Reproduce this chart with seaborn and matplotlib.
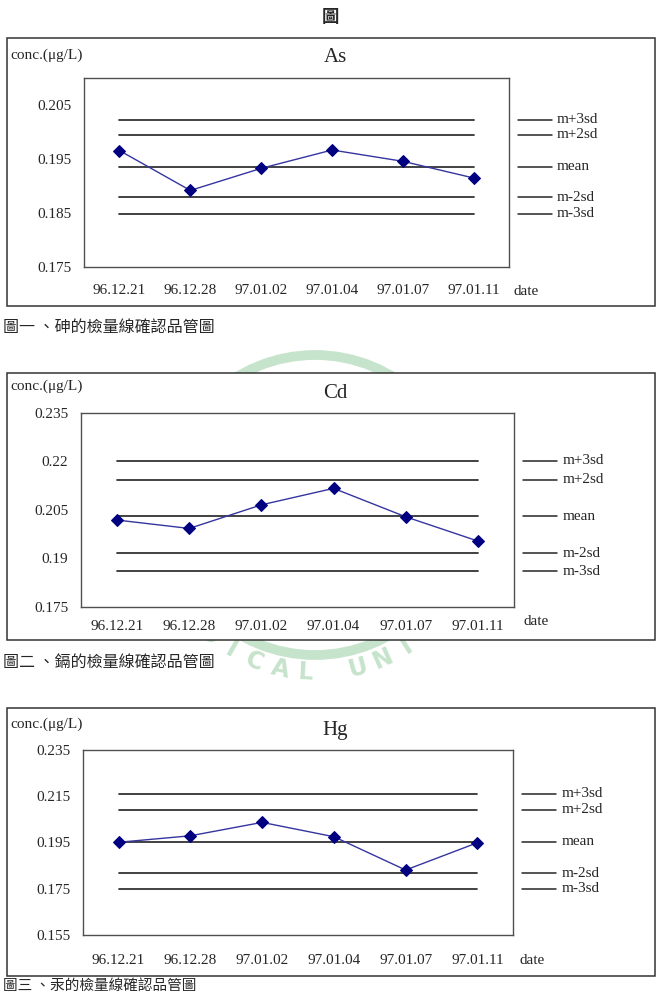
import numpy as np
import pandas as pd
import seaborn as sns
import matplotlib.pyplot as plt
import matplotlib.transforms as mtransforms
from matplotlib.patches import Rectangle, Circle

# data ########################################################
dates = ['96.12.21', '96.12.28', '97.01.02', '97.01.04', '97.01.07', '97.01.11']
limit_names = ['m+3sd', 'm+2sd', 'mean', 'm-2sd', 'm-3sd']

as_values = [0.1966, 0.1892, 0.1933, 0.1967, 0.1946, 0.1915]
as_limits = [0.2023, 0.1995, 0.1936, 0.1879, 0.1849]
as_ticks = [0.175, 0.185, 0.195, 0.205]

cd_values = [0.2018, 0.1992, 0.2065, 0.2116, 0.2028, 0.1953]
cd_limits = [0.2201, 0.2142, 0.2030, 0.1916, 0.1860]
cd_ticks = [0.175, 0.19, 0.205, 0.22, 0.235]

hg_values = [0.1951, 0.1979, 0.2037, 0.1975, 0.1831, 0.1949]
hg_limits = [0.2160, 0.2092, 0.1953, 0.1817, 0.1750]
hg_ticks = [0.155, 0.175, 0.195, 0.215, 0.235]

elements = ['As', 'Cd', 'Hg']
captions = ['圖一 、砷的檢量線確認品管圖', '圖二 、鎘的檢量線確認品管圖', '圖三 、汞的檢量線確認品管圖']

sns.set_style('white')
plt.rcParams['font.family'] = ['Liberation Serif', 'Noto Sans CJK TC', 'DejaVu Sans']

W, H = 661, 992
fig = plt.figure(figsize=(W / 100, H / 100), dpi=100)

# page background in pixel coordinates
bg = fig.add_axes([0, 0, 1, 1], zorder=0)
bg.set_xlim(0, W)
bg.set_ylim(H, 0)
bg.axis('off')

# faint watermark of the university logo
wm = '#c6e3cb'
bg.add_patch(Circle((315, 505), 150, fill=False, ec=wm, lw=7, zorder=1))
for i, ch in enumerate('MEDICAL UNIVERSITY'):
    th = np.deg2rad(147 - i * 9.0)
    bg.text(315 + 168 * np.cos(th), 505 + 168 * np.sin(th), ch, color=wm,
            fontsize=17, fontweight='bold', family='DejaVu Sans',
            rotation=90 - np.rad2deg(th), ha='center', va='center', zorder=1)

bg.text(330, 17, '圖', ha='center', va='center', fontsize=12.5, fontweight='bold',
        family=['Noto Sans CJK TC'], zorder=4)

# layout of each panel in pixels
layout = [
    dict(box=(7, 38, 655, 306), axes=(84, 78.3, 509.3, 267), title_y=58, conc_y=55,
         date_xy=(513, 291.7), pad=12.5, ylim=(0.175, 0.21),
         cap_y=327, cap_va='center', cap_size=11.5),
    dict(box=(7, 372.7, 655, 640), axes=(81, 412.7, 514, 606.7), title_y=393, conc_y=386.7,
         date_xy=(523, 621.7), pad=9.5, ylim=(0.175, 0.235),
         cap_y=663, cap_va='center', cap_size=11.5),
    dict(box=(7, 707.7, 655, 975.7), axes=(82.7, 750, 513.3, 935), title_y=730, conc_y=724,
         date_xy=(520, 961), pad=13.5, ylim=(0.155, 0.235),
         cap_y=993, cap_va='bottom', cap_size=10.5),
]
series = [(as_values, as_limits, as_ticks), (cd_values, cd_limits, cd_ticks),
          (hg_values, hg_limits, hg_ticks)]

for name, lay, (vals, lims, ticks), cap in zip(elements, layout, series, captions):
    l, t, r, b = lay['box']
    bg.add_patch(Rectangle((l, t), r - l, b - t, fc='white', ec='#333333', lw=1.1, zorder=3))
    bg.text(335, lay['title_y'], name, ha='center', va='center', fontsize=15, zorder=4)
    bg.text(10, lay['conc_y'], 'conc.(μg/L)', ha='left', va='center', fontsize=11, zorder=4)
    bg.text(lay['date_xy'][0], lay['date_xy'][1], 'date', ha='left', va='center',
            fontsize=11, zorder=4)
    bg.text(3, lay['cap_y'], cap, ha='left', va=lay['cap_va'], fontsize=lay['cap_size'],
            family=['Noto Sans CJK TC'], zorder=4)

    al, at, ar, ab = lay['axes']
    ax = fig.add_axes([al / W, 1 - ab / H, (ar - al) / W, (ab - at) / H], zorder=2)
    ax.set_facecolor('white')

    for v in lims:
        sns.lineplot(x=dates, y=[v] * len(dates), color='#2a2a2a', lw=1.25, sort=False, ax=ax)
    df = pd.DataFrame({'date': dates, 'conc': vals})
    sns.lineplot(data=df, x='date', y='conc', sort=False, color='#3535a0', lw=1.0,
                 marker='D', markersize=6.5, markerfacecolor='#000080',
                 markeredgecolor='#000080', ax=ax)

    ax.set_xlim(-0.5, len(dates) - 0.5)
    ax.set_ylim(*lay['ylim'])
    ax.set_yticks(ticks)
    ax.set_yticklabels([f'{tk:g}' for tk in ticks])
    ax.set_xticks(range(len(dates)))
    ax.set_xticklabels(dates)
    ax.set_xticks(np.arange(0.5, len(dates) - 1), minor=True)
    ax.tick_params(axis='x', which='major', length=0, pad=lay['pad'], labelsize=11)
    ax.tick_params(axis='x', which='minor', direction='in', length=5, width=1, color='#444444')
    ax.tick_params(axis='y', length=0, pad=9, labelsize=11)
    ax.set_xlabel('')
    ax.set_ylabel('')
    for sp in ax.spines.values():
        sp.set_color('#505050')
        sp.set_linewidth(1.0)

    # right hand legend, each entry at the level of its line
    trans = mtransforms.blended_transform_factory(ax.transAxes, ax.transData)
    for lab, v in zip(limit_names, lims):
        ax.plot([1.02, 1.10], [v, v], transform=trans, color='#262626', lw=1.1, clip_on=False)
        ax.text(1.112, v, lab, transform=trans, ha='left', va='center', fontsize=11,
                clip_on=False)

fig.savefig('out.png', dpi=100)
